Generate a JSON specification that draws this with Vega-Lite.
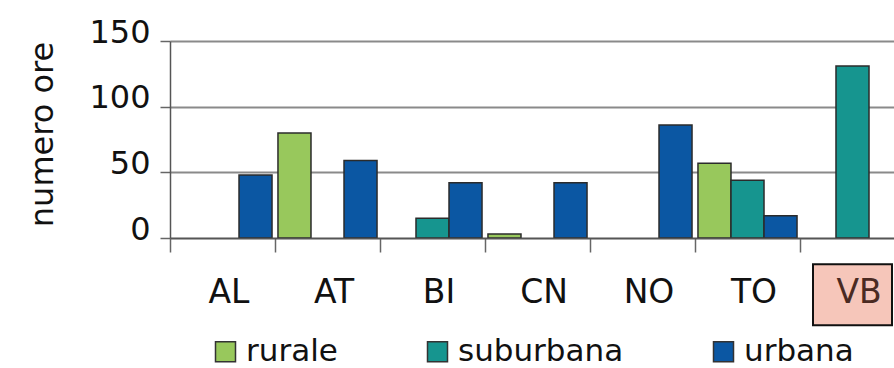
{
  "$schema": "https://vega.github.io/schema/vega-lite/v6.json",
  "autosize": {"type": "none"},
  "padding": {"left": 170, "top": 41, "right": 0, "bottom": 130},
  "width": 724,
  "height": 197,
  "background": "white",
  "config": {
    "font": "DejaVu Sans",
    "view": {"stroke": null}
  },
  "layer": [
    {
      "data": {
        "values": [
          {"provincia": "AL", "tipo": "urbana", "ore": 48},
          {"provincia": "AT", "tipo": "rurale", "ore": 80},
          {"provincia": "AT", "tipo": "urbana", "ore": 59},
          {"provincia": "BI", "tipo": "suburbana", "ore": 15},
          {"provincia": "BI", "tipo": "urbana", "ore": 42},
          {"provincia": "CN", "tipo": "rurale", "ore": 3},
          {"provincia": "CN", "tipo": "urbana", "ore": 42},
          {"provincia": "NO", "tipo": "urbana", "ore": 86},
          {"provincia": "TO", "tipo": "rurale", "ore": 57},
          {"provincia": "TO", "tipo": "suburbana", "ore": 44},
          {"provincia": "TO", "tipo": "urbana", "ore": 17},
          {"provincia": "VB", "tipo": "suburbana", "ore": 131}
        ]
      },
      "mark": {"type": "bar", "stroke": "#2b2b2b", "strokeWidth": 1.5},
      "encoding": {
        "x": {
          "field": "provincia",
          "type": "nominal",
          "scale": {
            "domain": ["AL", "AT", "BI", "CN", "NO", "TO", "VB"],
            "range": [0, 735],
            "paddingInner": 0,
            "paddingOuter": 0
          },
          "axis": {
            "title": null,
            "labelAngle": 0,
            "tickBand": "extent",
            "tickSize": 14,
            "tickColor": "#666666",
            "tickWidth": 1.5,
            "domainColor": "#555555",
            "domainWidth": 1.5,
            "labelFontSize": 33,
            "labelPadding": 24,
            "labelOffset": 6,
            "labelColor": {
              "condition": {"test": "datum.value === 'VB'", "value": "#4a2a22"},
              "value": "#111111"
            },
            "zindex": 1
          }
        },
        "xOffset": {
          "field": "tipo",
          "type": "nominal",
          "scale": {
            "domain": ["rurale", "suburbana", "urbana"],
            "paddingInner": 0,
            "paddingOuter": 0.09
          }
        },
        "y": {
          "field": "ore",
          "type": "quantitative",
          "scale": {"domain": [0, 150], "nice": false},
          "axis": {
            "title": "numero ore",
            "values": [0, 50, 100, 150],
            "grid": true,
            "gridColor": "#8a8a8a",
            "gridWidth": 2,
            "tickSize": 10,
            "tickColor": "#666666",
            "tickWidth": 1.5,
            "domainColor": "#555555",
            "domainWidth": 1.5,
            "labelFontSize": 32,
            "labelPadding": 10,
            "labelOffset": -9,
            "labelColor": "#111111",
            "titleFontSize": 32,
            "titleFontWeight": "normal",
            "titleColor": "#111111",
            "titleAngle": -90,
            "titleX": -118,
            "titleY": 93,
            "titleAlign": "center",
            "titleBaseline": "alphabetic"
          }
        },
        "color": {
          "field": "tipo",
          "type": "nominal",
          "scale": {
            "domain": ["rurale", "suburbana", "urbana"],
            "range": ["#98c85c", "#16958f", "#0b57a3"]
          },
          "legend": {
            "title": null,
            "orient": "none",
            "direction": "horizontal",
            "legendX": 40,
            "legendY": 295,
            "symbolType": "square",
            "symbolSize": 400,
            "symbolStrokeColor": "#333333",
            "symbolStrokeWidth": 1.5,
            "labelFontSize": 31,
            "labelLimit": 400,
            "labelColor": "#111111",
            "labelOffset": 5,
            "columnPadding": 84
          }
        }
      }
    },
    {
      "data": {"values": [{"provincia": "VB"}]},
      "mark": {"type": "bar", "width": 79, "fill": "#f6c6ba", "stroke": "#111111", "strokeWidth": 2},
      "encoding": {
        "x": {"field": "provincia", "type": "nominal"},
        "y": {"datum": -20, "scale": {"domain": [0, 150], "nice": false}},
        "y2": {"datum": -66.5}
      }
    }
  ]
}
